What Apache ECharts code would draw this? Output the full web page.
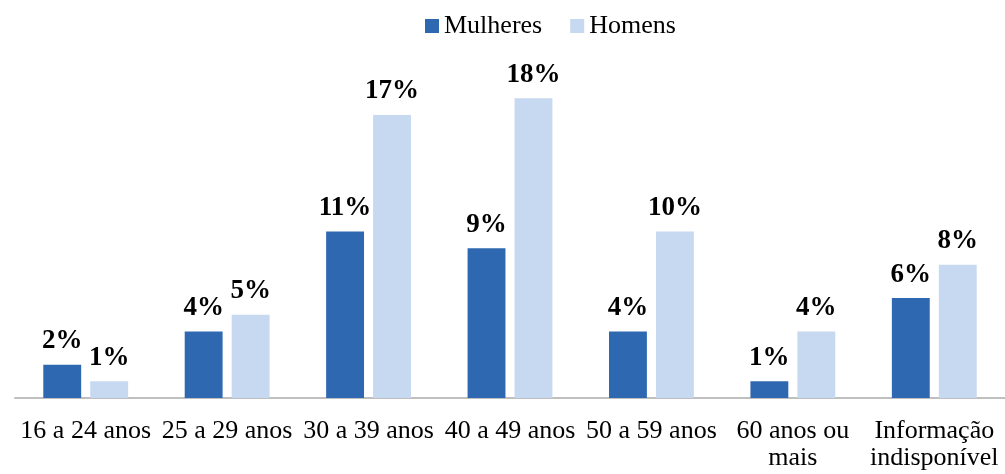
<!DOCTYPE html>
<html>
<head>
<meta charset="utf-8">
<script src="https://cdn.jsdelivr.net/npm/echarts@6/dist/echarts.min.js"></script>
<style>
  html, body { margin: 0; padding: 0; background: #fff; }
  #chart { width: 1005px; height: 474px; }
</style>
</head>
<body>
<div id="chart"></div>
<script>
const categories = ["16 a 24 anos", "25 a 29 anos", "30 a 39 anos", "40 a 49 anos", "50 a 59 anos", "60 anos ou\nmais", "Informação\nindisponível"];
const mulheres = [2, 4, 10, 9, 4, 1, 6];
const homens = [1, 5, 17, 18, 10, 4, 8];
// label texts as printed on the chart (rounded from the source data)
const mulheresLabels = ["2%", "4%", "11%", "9%", "4%", "1%", "6%"];
const homensLabels = ["1%", "5%", "17%", "18%", "10%", "4%", "8%"];

const font = "'Liberation Serif', 'Times New Roman', serif";

function barLabel(texts) {
  return {
    show: true,
    position: "top",
    distance: 10,
    fontFamily: font,
    fontSize: 27,
    fontWeight: "bold",
    color: "#000",
    formatter: (p) => texts[p.dataIndex],
  };
}

const chart = echarts.init(document.getElementById("chart"));
chart.setOption({
  animation: false,
  backgroundColor: "#fff",
  legend: {
    left: 425,
    top: 13,
    padding: 0,
    itemWidth: 14,
    itemHeight: 14,
    itemGap: 28,
    icon: "rect",
    textStyle: { fontFamily: font, fontSize: 26, color: "#000" },
    data: ["Mulheres", "Homens"],
  },
  grid: { left: 15, right: -2, top: 65, bottom: 76, containLabel: false },
  xAxis: {
    type: "category",
    data: categories,
    axisLine: { lineStyle: { color: "#bfbfbf", width: 2 } },
    axisTick: { show: false },
    axisLabel: {
      interval: 0,
      margin: 20,
      fontFamily: font,
      fontSize: 26,
      lineHeight: 27,
      color: "#000",
    },
  },
  yAxis: {
    type: "value",
    min: 0,
    max: 20,
    show: false,
  },
  series: [
    {
      name: "Mulheres",
      type: "bar",
      data: mulheres,
      itemStyle: { color: "#2E68B1" },
      barGap: "24%",
      barCategoryGap: "40%",
      label: barLabel(mulheresLabels),
    },
    {
      name: "Homens",
      type: "bar",
      data: homens,
      itemStyle: { color: "#C6D9F0" },
      label: barLabel(homensLabels),
    },
  ],
});
</script>
</body>
</html>
